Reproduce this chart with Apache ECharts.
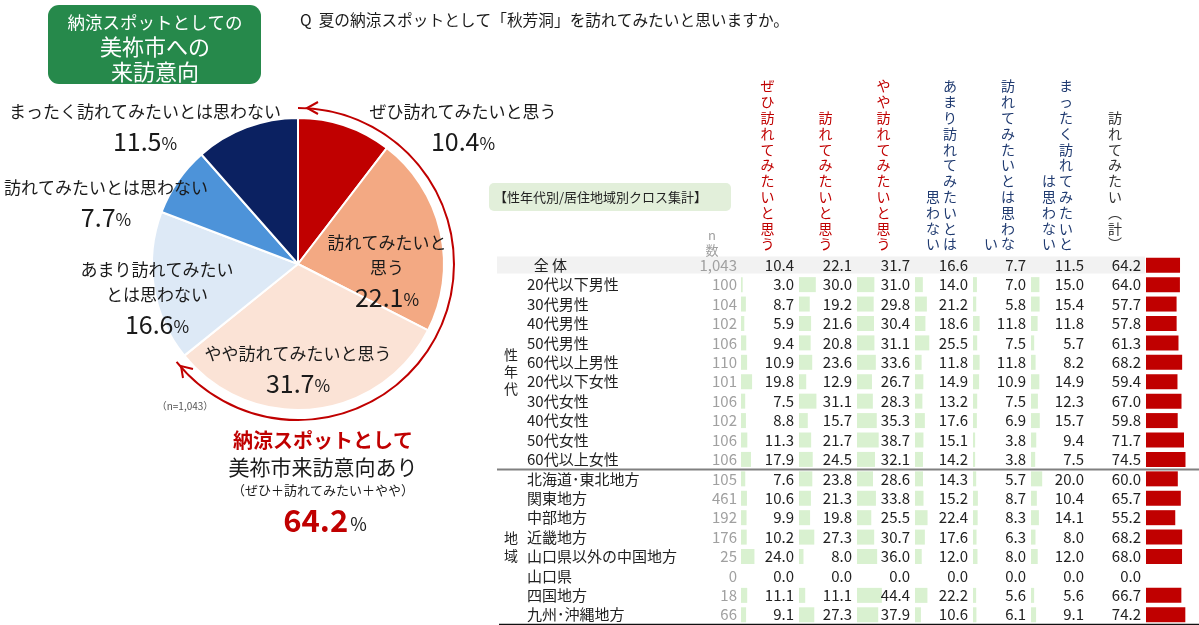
<!DOCTYPE html>
<html>
<head>
<meta charset="utf-8">
<script src="https://cdn.jsdelivr.net/npm/echarts@6/dist/echarts.min.js"></script>
<style>
  html, body { margin: 0; padding: 0; background: #fff; }
  #main { width: 1199px; height: 625px; }
</style>
</head>
<body>
<div id="main"></div>
<script>
const FONT = '"Noto Sans CJK JP", "Noto Sans", sans-serif';

// 円グラフ
const pieNames = ['ぜひ訪れてみたいと思う', '訪れてみたいと思う', 'やや訪れてみたいと思う', 'あまり訪れてみたいとは思わない', '訪れてみたいとは思わない', 'まったく訪れてみたいとは思わない'];
const pieValues = [10.4, 22.1, 31.7, 16.6, 7.7, 11.5];
const pieColors = ['#c00000', '#f3a983', '#fbe3d6', '#dde9f6', '#4d93d9', '#0b2161'];
const pieLabelText = ['ぜひ訪れてみたいと思う', '訪れてみたいと\n思う', 'やや訪れてみたいと思う', 'あまり訪れてみたい\nとは思わない', '訪れてみたいとは思わない', 'まったく訪れてみたいとは思わない'];
const pieLabelPos = [[463, 127], [387, 270], [298, 369], [157, 297], [106, 203], [145, 127]];

// クロス集計
const rowLabels = ['全 体', '20代以下男性', '30代男性', '40代男性', '50代男性', '60代以上男性', '20代以下女性', '30代女性', '40代女性', '50代女性', '60代以上女性', '北海道･東北地方', '関東地方', '中部地方', '近畿地方', '山口県以外の中国地方', '山口県', '四国地方', '九州･沖縄地方'];
const nValues = ['1,043', '100', '104', '102', '106', '110', '101', '106', '102', '106', '106', '105', '461', '192', '176', '25', '0', '18', '66'];
const colZehi = [10.4, 3.0, 8.7, 5.9, 9.4, 10.9, 19.8, 7.5, 8.8, 11.3, 17.9, 7.6, 10.6, 9.9, 10.2, 24.0, 0.0, 11.1, 9.1];
const colOtozure = [22.1, 30.0, 19.2, 21.6, 20.8, 23.6, 12.9, 31.1, 15.7, 21.7, 24.5, 23.8, 21.3, 19.8, 27.3, 8.0, 0.0, 11.1, 27.3];
const colYaya = [31.7, 31.0, 29.8, 30.4, 31.1, 33.6, 26.7, 28.3, 35.3, 38.7, 32.1, 28.6, 33.8, 25.5, 30.7, 36.0, 0.0, 44.4, 37.9];
const colAmari = [16.6, 14.0, 21.2, 18.6, 25.5, 11.8, 14.9, 13.2, 17.6, 15.1, 14.2, 14.3, 15.2, 22.4, 17.6, 12.0, 0.0, 22.2, 10.6];
const colOmowanai = [7.7, 7.0, 5.8, 11.8, 7.5, 11.8, 10.9, 7.5, 6.9, 3.8, 3.8, 5.7, 8.7, 8.3, 6.3, 8.0, 0.0, 5.6, 6.1];
const colMattaku = [11.5, 15.0, 15.4, 11.8, 5.7, 8.2, 14.9, 12.3, 15.7, 9.4, 7.5, 20.0, 10.4, 14.1, 8.0, 12.0, 0.0, 5.6, 9.1];
const colTotal = [64.2, 64.0, 57.7, 57.8, 61.3, 68.2, 59.4, 67.0, 59.8, 71.7, 74.5, 60.0, 65.7, 55.2, 68.2, 68.0, 0.0, 66.7, 74.2];

const colHeads = [
  ['ぜひ訪れてみたいと思う'],
  ['訪れてみたいと思う'],
  ['やや訪れてみたいと思う'],
  ['あまり訪れてみたいとは', '思わない'],
  ['訪れてみたいとは思わな', 'い'],
  ['まったく訪れてみたいと', 'は思わない'],
  ['訪れてみたい︵計︶']
];
const headColors = ['#c00000', '#c00000', '#c00000', '#1f3a70', '#1f3a70', '#1f3a70', '#333333'];

const tableCols = [colZehi, colOtozure, colYaya, colAmari, colOmowanai, colMattaku, colTotal];
const totalYes = pieValues[0] + pieValues[1] + pieValues[2];

const chart = echarts.init(document.getElementById('main'));

const ROW_TOP = 255.5, ROW_H = 369;
const colLeft = i => (i < 6 ? 741 + 58 * i : 1146);

let grids = [], xAxes = [], yAxes = [], series = [];

for (let i = 0; i < 7; i++) {
  const isTotal = i === 6;
  grids.push({ left: colLeft(i), top: ROW_TOP, width: 56, height: ROW_H });
  xAxes.push({ gridIndex: i, type: 'value', min: 0, max: 100, show: false });
  yAxes.push({
    gridIndex: i,
    type: 'category',
    inverse: true,
    data: rowLabels,
    show: i === 0,
    axisLine: { show: false },
    axisTick: { show: false },
    splitLine: { show: false },
    axisLabel: {
      margin: 4,
      formatter: (v, idx) => `{a|${idx === 0 ? '  ' + v : v}}{b|${nValues[idx]}}`,
      rich: {
        a: { width: 162, align: 'left', fontSize: 15, color: '#222' },
        b: { width: 48, align: 'right', fontSize: 15, color: '#a0a0a0' }
      }
    }
  });
  series.push({
    type: 'bar',
    xAxisIndex: i,
    yAxisIndex: i,
    barWidth: 15,
    silent: true,
    data: tableCols[i].map((v, idx) => ({
      value: v,
      itemStyle: { color: isTotal ? '#c00000' : (idx === 0 ? 'rgba(0,0,0,0)' : '#d9f1d0') }
    })),
    label: {
      show: true,
      position: isTotal ? [-5, '50%'] : [53, '50%'],
      align: 'right',
      verticalAlign: 'middle',
      fontSize: 15,
      color: '#222',
      formatter: p => p.value.toFixed(1)
    }
  });
}

// 円グラフ本体
series.push({
  type: 'pie',
  center: [298, 264],
  radius: [0, 146],
  startAngle: 90,
  clockwise: true,
  silent: true,
  itemStyle: { borderColor: '#fff', borderWidth: 2 },
  data: pieNames.map((n, i) => ({ name: n, value: pieValues[i], itemStyle: { color: pieColors[i] } })),
  label: {
    show: true,
    position: 'inside',
    formatter: p => {
      const lines = pieLabelText[p.dataIndex].split('\n').map(s => `{n|${s}}`).join('\n');
      return `${lines}\n{v|${p.value.toFixed(1)}}{p|%}`;
    },
    rich: {
      n: { fontSize: 17, lineHeight: 25, color: '#1a1a1a' },
      v: { fontSize: 25, lineHeight: 30, color: '#1a1a1a', verticalAlign: 'bottom' },
      p: { fontSize: 17, lineHeight: 30, color: '#1a1a1a', verticalAlign: 'bottom', padding: [0, 0, 2, 0] }
    }
  },
  labelLine: { show: false },
  labelLayout: p => {
    const pos = pieLabelPos[p.dataIndex];
    return { x: pos[0], y: pos[1], align: 'center', verticalAlign: 'middle' };
  }
});

// 来訪意向ありの円弧
series.push({
  type: 'pie',
  center: [298, 264],
  radius: [155, 157],
  startAngle: 90,
  clockwise: true,
  silent: true,
  label: { show: false },
  labelLine: { show: false },
  data: [
    { value: totalYes, itemStyle: { color: '#c00000' } },
    { value: 100 - totalYes, itemStyle: { color: 'rgba(0,0,0,0)' } }
  ]
});

const txt = (x, y, text, size, color, extra) => Object.assign({
  type: 'text', x: x, y: y,
  style: Object.assign({ text: text, fontSize: size, fontFamily: FONT, fill: color, align: 'center', verticalAlign: 'middle' }, extra || {})
});

let graphic = [
  // 全体行の背景
  { type: 'rect', z: 0, shape: { x: 497, y: 256.5, width: 648, height: 17 }, style: { fill: '#f2f2f2' } },
  // タイトルボックス
  { type: 'rect', shape: { x: 48, y: 5, width: 213, height: 79, r: 11 }, style: { fill: '#26894b' } },
  txt(155, 22, '納涼スポットとしての', 17.5, '#fff'),
  txt(155, 47, '美祢市への', 22, '#fff'),
  txt(155, 72, '来訪意向', 22, '#fff'),
  txt(300, 20, 'Q  夏の納涼スポットとして「秋芳洞」を訪れてみたいと思いますか。', 15.7, '#1a1a1a', { align: 'left' }),
  // 集計ラベル
  { type: 'rect', shape: { x: 489, y: 183, width: 242, height: 28, r: 5 }, style: { fill: '#e2efda' } },
  txt(494, 197, '【性年代別/居住地域別クロス集計】', 13, '#222', { align: 'left' }),
  txt(712, 235, 'n', 13, '#a0a0a0'),
  txt(712, 250, '数', 13, '#a0a0a0'),
  // グループ見出し
  txt(511, 372, '性\n年\n代', 14, '#222', { lineHeight: 17 }),
  txt(511, 547, '地\n域', 14, '#222', { lineHeight: 18 }),
  // 罫線
  { type: 'line', shape: { x1: 497, y1: 469.5, x2: 1199, y2: 469.5 }, style: { stroke: '#808080', lineWidth: 2 } },
  { type: 'line', shape: { x1: 499, y1: 624.5, x2: 1199, y2: 624.5 }, style: { stroke: '#111', lineWidth: 1.5 } },
  // 円弧の矢印
  { type: 'polyline', shape: { points: [[318, 102], [307, 108], [318, 114]] }, style: { stroke: '#c00000', lineWidth: 2, fill: null } },
  { type: 'polyline', shape: { points: [[193, 369], [181, 366], [183, 378]] }, style: { stroke: '#c00000', lineWidth: 2, fill: null } },
  txt(185, 406, '（n=1,043）', 10, '#555'),
  // 来訪意向あり
  txt(323, 440, '納涼スポットとして', 20, '#c00000', { fontWeight: 'bold' }),
  txt(323, 467, '美祢市来訪意向あり', 21, '#1a1a1a'),
  txt(323, 490, '（ぜひ＋訪れてみたい＋やや）', 13, '#1a1a1a'),
  {
    type: 'text', x: 325, y: 518,
    style: {
      text: `{v|${totalYes.toFixed(1)}}{p|%}`,
      align: 'center', verticalAlign: 'middle',
      rich: {
        v: { fontSize: 31, fontWeight: 'bold', fill: '#c00000', fontFamily: FONT, lineHeight: 36, verticalAlign: 'bottom' },
        p: { fontSize: 18, fill: '#1a1a1a', fontFamily: FONT, lineHeight: 36, verticalAlign: 'bottom', padding: [0, 0, 3, 2] }
      }
    }
  }
];

// 列見出し（縦書き）
colHeads.forEach((cols, i) => {
  const center = i < 6 ? colLeft(i) + 26.5 : 1115;
  cols.forEach((s, k) => {
    const x = cols.length === 1 ? center : center + (k === 0 ? 8.5 : -8.5);
    graphic.push(txt(x, 252, s.split('').join('\n'), 14, headColors[i], { verticalAlign: 'bottom', lineHeight: 15.8 }));
  });
});

chart.setOption({
  animation: false,
  textStyle: { fontFamily: FONT },
  grid: grids,
  xAxis: xAxes,
  yAxis: yAxes,
  series: series,
  graphic: graphic
});
</script>
</body>
</html>
